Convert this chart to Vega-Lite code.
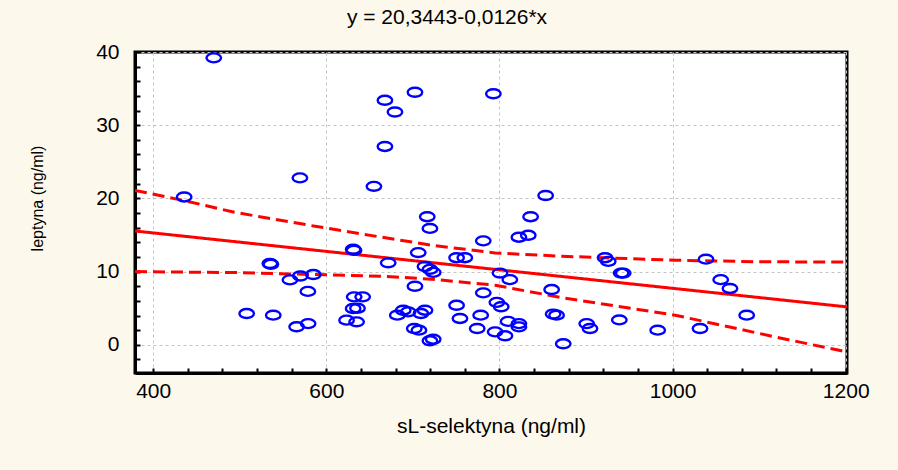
{
  "$schema": "https://vega.github.io/schema/vega-lite/v6.json",
  "width": 712,
  "height": 321,
  "autosize": {"type": "none"},
  "padding": {"left": 135, "top": 52, "right": 51, "bottom": 97},
  "background": "#fdf8ec",
  "title": {
    "text": "y = 20,3443-0,0126*x",
    "font": "Liberation Sans",
    "fontSize": 21,
    "fontWeight": "normal",
    "color": "#000000",
    "anchor": "middle",
    "frame": "group",
    "baseline": "bottom",
    "offset": 12,
    "dx": -44,
    "dy": 20
  },
  "config": {
    "view": {"stroke": "#000000", "strokeWidth": 3, "fill": "#ffffff"},
    "axis": {
      "labelFont": "Liberation Sans",
      "labelFontSize": 21,
      "labelColor": "#000000",
      "titleFont": "Liberation Sans",
      "titleColor": "#000000",
      "titleFontWeight": "normal",
      "domainColor": "#000000",
      "domainWidth": 3,
      "tickColor": "#000000",
      "tickWidth": 2,
      "tickSize": -5,
      "gridColor": "#c4c4c4",
      "gridDash": [3, 3],
      "gridWidth": 1
    }
  },
  "layer": [
    {
      "data": {
        "values": [
          {"s": "fit", "x": 379, "y": 15.55},
          {"s": "fit", "x": 1201.5, "y": 5.18},
          {"s": "upper", "x": 379, "y": 21.1},
          {"s": "upper", "x": 436, "y": 19.7},
          {"s": "upper", "x": 494, "y": 18.1},
          {"s": "upper", "x": 587, "y": 16.2},
          {"s": "upper", "x": 664, "y": 14.7},
          {"s": "upper", "x": 722, "y": 13.6},
          {"s": "upper", "x": 795, "y": 12.55},
          {"s": "upper", "x": 872, "y": 12.1},
          {"s": "upper", "x": 1003, "y": 11.55},
          {"s": "upper", "x": 1100, "y": 11.35},
          {"s": "upper", "x": 1201, "y": 11.3},
          {"s": "lower", "x": 379, "y": 10.0},
          {"s": "lower", "x": 494, "y": 9.87},
          {"s": "lower", "x": 587, "y": 9.6},
          {"s": "lower", "x": 664, "y": 9.37},
          {"s": "lower", "x": 722, "y": 8.96},
          {"s": "lower", "x": 795, "y": 8.14},
          {"s": "lower", "x": 872, "y": 6.45},
          {"s": "lower", "x": 1003, "y": 4.05},
          {"s": "lower", "x": 1118, "y": 1.09},
          {"s": "lower", "x": 1191, "y": -0.72},
          {"s": "lower", "x": 1201, "y": -0.95}
        ]
      },
      "mark": {"type": "line", "color": "#ff0000", "strokeWidth": 3, "clip": true},
      "encoding": {
        "x": {
          "field": "x", "type": "quantitative",
          "scale": {"domain": [379, 1201.5], "nice": false, "zero": false},
          "axis": {
            "title": "sL-selektyna (ng/ml)",
            "titleFontSize": 21,
            "titlePadding": 14,
            "labelOverlap": false,
            "tickCount": 200,
            "values": [400,440,480,520,560,600,640,680,720,760,800,840,880,920,960,1000,1040,1080,1120,1160,1200],
            "labelExpr": "datum.value % 200 === 0 ? format(datum.value, 'd') : ''",
            "labelPadding": 12,
            "grid": true,
            "gridOpacity": {"condition": {"test": "datum.value % 200 === 0", "value": 1}, "value": 0}
          }
        },
        "y": {
          "field": "y", "type": "quantitative",
          "scale": {"domain": [-3.85, 40], "nice": false, "zero": false},
          "axis": {
            "title": "leptyna (ng/ml)",
            "titleFontSize": 16,
            "titleX": -98,
            "titleY": 146,
            "titleBaseline": "middle",
            "labelOverlap": false,
            "tickCount": 200,
            "values": [-2,0,2,4,6,8,10,12,14,16,18,20,22,24,26,28,30,32,34,36,38,40],
            "labelExpr": "datum.value % 10 === 0 ? format(datum.value, 'd') : ''",
            "labelPadding": 21,
            "grid": true,
            "gridOpacity": {"condition": {"test": "datum.value % 10 === 0", "value": 1}, "value": 0}
          }
        },
        "detail": {"field": "s"},
        "strokeDash": {
          "field": "s", "type": "nominal",
          "scale": {"domain": ["fit", "upper", "lower"], "range": [[1, 0], [12, 6], [12, 6]]},
          "legend": null
        }
      }
    },
    {
      "data": {
        "values": [
          {"x": 470, "y": 39.2}, {"x": 569.5, "y": 22.8}, {"x": 435.8, "y": 20.2}, {"x": 534.8, "y": 11.1}, {"x": 536, "y": 11.0},
          {"x": 558, "y": 8.87}, {"x": 570, "y": 9.4}, {"x": 585, "y": 9.6}, {"x": 578.7, "y": 7.3}, {"x": 508, "y": 4.27},
          {"x": 538.7, "y": 4.05}, {"x": 565.7, "y": 2.46}, {"x": 579, "y": 2.9},
          {"x": 667.7, "y": 33.4}, {"x": 702.4, "y": 34.5}, {"x": 679.3, "y": 31.8}, {"x": 667.7, "y": 27.1}, {"x": 655, "y": 21.65},
          {"x": 716.6, "y": 17.5}, {"x": 719.7, "y": 15.9}, {"x": 781.3, "y": 14.2}, {"x": 793, "y": 34.3}, {"x": 631, "y": 13.05},
          {"x": 632, "y": 12.9}, {"x": 706.2, "y": 12.6}, {"x": 671.5, "y": 11.2}, {"x": 750.5, "y": 11.9}, {"x": 760, "y": 11.9},
          {"x": 714, "y": 10.7}, {"x": 719.7, "y": 10.3}, {"x": 723.5, "y": 9.9}, {"x": 702.4, "y": 8.0}, {"x": 632.2, "y": 6.55},
          {"x": 642, "y": 6.55}, {"x": 631, "y": 4.96}, {"x": 636, "y": 5.0}, {"x": 623.4, "y": 3.37}, {"x": 635, "y": 3.14},
          {"x": 682, "y": 4.05}, {"x": 688.9, "y": 4.73}, {"x": 694.6, "y": 4.5}, {"x": 709.3, "y": 4.27}, {"x": 714, "y": 4.73},
          {"x": 701.6, "y": 2.23}, {"x": 707, "y": 2.0}, {"x": 719.7, "y": 0.55}, {"x": 723.5, "y": 0.77}, {"x": 750.5, "y": 5.4},
          {"x": 754.4, "y": 3.6}, {"x": 774.3, "y": 2.23}, {"x": 778.3, "y": 4.05}, {"x": 781.3, "y": 7.1}, {"x": 797, "y": 5.8},
          {"x": 795, "y": 1.77},
          {"x": 853.4, "y": 20.4}, {"x": 836, "y": 17.5}, {"x": 822.5, "y": 14.7}, {"x": 833.3, "y": 14.96}, {"x": 800.6, "y": 9.8},
          {"x": 812, "y": 8.9}, {"x": 922, "y": 11.9}, {"x": 925.7, "y": 11.4}, {"x": 940.5, "y": 9.8}, {"x": 943, "y": 9.8},
          {"x": 860.3, "y": 7.55}, {"x": 802, "y": 5.2}, {"x": 810, "y": 3.2}, {"x": 822.5, "y": 2.9}, {"x": 822.5, "y": 2.45},
          {"x": 862, "y": 4.2}, {"x": 866, "y": 4.05}, {"x": 873.7, "y": 0.14}, {"x": 900.8, "y": 2.9}, {"x": 904.6, "y": 2.23},
          {"x": 938.5, "y": 3.4}, {"x": 982.8, "y": 2.0}, {"x": 806.4, "y": 1.23},
          {"x": 1038.6, "y": 11.7}, {"x": 1055.6, "y": 8.9}, {"x": 1066.3, "y": 7.7}, {"x": 1085.6, "y": 4.05}, {"x": 1031.7, "y": 2.23}
        ]
      },
      "mark": {
        "type": "point",
        "shape": "M-1,0A1,0.62,0,1,1,1,0A1,0.62,0,1,1,-1,0Z",
        "filled": false,
        "stroke": "#0000ff",
        "strokeWidth": 2.4,
        "opacity": 1,
        "size": 210,
        "clip": true
      },
      "encoding": {
        "x": {"field": "x", "type": "quantitative"},
        "y": {"field": "y", "type": "quantitative"}
      }
    }
  ]
}
